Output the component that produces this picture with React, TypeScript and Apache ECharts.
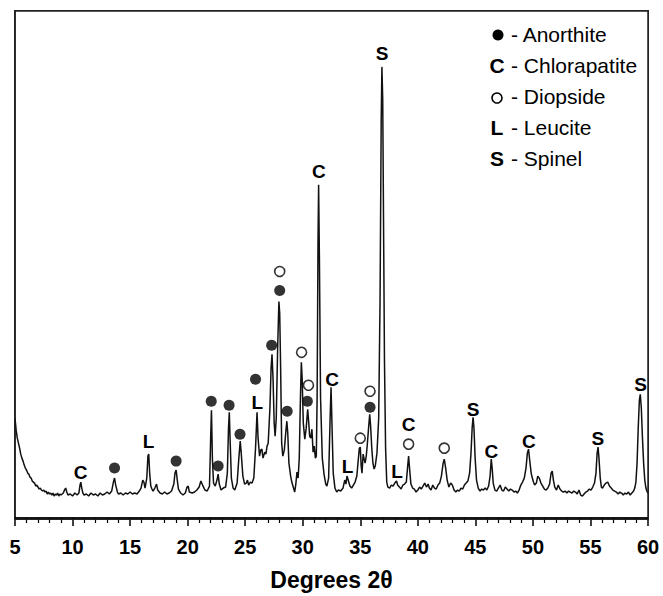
import React, { useEffect, useRef } from "react";
import * as echarts from "echarts";

// XRD pattern: [2θ (degrees), intensity (a.u.)]
const pattern: number[][] = [
  [5.0, 100], [5.1, 88], [5.2, 80], [5.3, 75], [5.4, 70], [5.5, 64], [5.6, 60], [5.7, 57], [5.8, 53], [5.9, 50],
  [6.0, 48], [6.1, 45], [6.2, 44], [6.3, 41], [6.4, 40], [6.5, 37], [6.6, 36], [6.7, 35], [6.8, 32], [6.9, 33],
  [7.0, 31], [7.1, 29], [7.2, 30], [7.3, 28], [7.4, 27], [7.5, 28], [7.6, 26], [7.7, 27], [7.8, 24], [7.9, 26],
  [8.0, 24], [8.1, 25], [8.2, 23], [8.3, 25], [8.4, 22], [8.5, 24], [8.6, 23], [8.7, 25], [8.8, 22], [8.9, 24],
  [9.0, 23], [9.2, 25], [9.3, 28], [9.4, 30], [9.5, 26], [9.6, 23], [9.8, 24], [10.0, 22], [10.2, 25], [10.4, 23],
  [10.55, 25], [10.65, 33], [10.72, 36], [10.8, 30], [10.9, 25], [11.0, 23], [11.2, 24], [11.4, 22], [11.6, 25], [11.8, 23],
  [12.0, 24], [12.2, 22], [12.4, 25], [12.6, 23], [12.8, 24], [13.0, 26], [13.2, 24], [13.4, 27], [13.55, 36], [13.65, 40],
  [13.75, 33], [13.9, 26], [14.0, 24], [14.2, 25], [14.4, 23], [14.6, 25], [14.8, 24], [15.0, 26], [15.2, 24], [15.4, 25],
  [15.6, 24], [15.8, 27], [15.95, 30], [16.1, 38], [16.2, 36], [16.3, 30], [16.45, 40], [16.55, 62], [16.62, 64], [16.7, 45],
  [16.8, 32], [16.9, 29], [17.0, 27], [17.15, 30], [17.3, 34], [17.4, 28], [17.6, 25], [17.8, 24], [18.0, 26], [18.2, 24],
  [18.4, 25], [18.6, 27], [18.8, 34], [18.9, 45], [19.0, 48], [19.1, 38], [19.2, 29], [19.4, 25], [19.6, 23], [19.8, 25],
  [19.95, 31], [20.05, 32], [20.15, 26], [20.4, 25], [20.6, 26], [20.8, 28], [21.0, 31], [21.15, 37], [21.3, 33], [21.5, 28],
  [21.7, 27], [21.9, 32], [22.0, 80], [22.07, 108], [22.15, 60], [22.25, 35], [22.4, 32], [22.55, 38], [22.65, 44], [22.75, 34],
  [22.9, 28], [23.1, 30], [23.3, 31], [23.45, 45], [23.55, 90], [23.62, 106], [23.7, 75], [23.8, 40], [23.95, 30], [24.1, 28],
  [24.3, 35], [24.45, 60], [24.57, 77], [24.65, 66], [24.8, 42], [24.95, 34], [25.1, 35], [25.2, 38], [25.3, 33], [25.45, 36],
  [25.6, 35], [25.75, 40], [25.9, 70], [26.03, 106], [26.12, 80], [26.25, 62], [26.35, 68], [26.45, 69], [26.55, 60], [26.7, 66],
  [26.8, 64], [26.9, 72], [27.0, 75], [27.15, 110], [27.25, 150], [27.33, 164], [27.42, 140], [27.52, 95], [27.6, 82], [27.7, 100],
  [27.82, 170], [27.93, 217], [28.0, 205], [28.08, 150], [28.17, 75], [28.27, 62], [28.4, 68], [28.52, 85], [28.62, 97], [28.7, 85],
  [28.8, 55], [28.95, 42], [29.05, 36], [29.2, 30], [29.3, 26], [29.4, 34], [29.5, 46], [29.6, 40], [29.7, 60], [29.8, 120],
  [29.88, 156], [29.95, 140], [30.05, 95], [30.18, 79], [30.3, 90], [30.43, 109], [30.52, 96], [30.6, 82], [30.7, 80], [30.8, 89],
  [30.9, 66], [31.0, 72], [31.1, 60], [31.18, 62], [31.25, 120], [31.33, 280], [31.38, 334], [31.45, 260], [31.55, 120], [31.7, 60],
  [31.85, 44], [32.0, 34], [32.1, 32], [32.25, 40], [32.38, 100], [32.46, 131], [32.55, 90], [32.65, 45], [32.8, 30], [32.95, 26],
  [33.1, 28], [33.3, 27], [33.5, 30], [33.65, 38], [33.75, 34], [33.85, 42], [33.95, 38], [34.1, 32], [34.25, 30], [34.4, 33],
  [34.55, 36], [34.7, 42], [34.8, 55], [34.92, 70], [35.0, 71], [35.08, 52], [35.15, 45], [35.25, 64], [35.32, 60], [35.42, 55],
  [35.52, 62], [35.62, 75], [35.72, 90], [35.82, 104], [35.9, 92], [36.0, 70], [36.1, 55], [36.2, 49], [36.3, 52], [36.45, 65],
  [36.6, 100], [36.72, 220], [36.82, 400], [36.88, 452], [36.95, 420], [37.02, 300], [37.1, 160], [37.2, 70], [37.3, 36], [37.4, 31],
  [37.55, 30], [37.7, 33], [37.85, 32], [38.0, 35], [38.15, 37], [38.25, 33], [38.4, 31], [38.55, 29], [38.7, 33], [38.85, 34],
  [39.0, 36], [39.12, 52], [39.2, 62], [39.28, 50], [39.4, 34], [39.55, 30], [39.7, 29], [39.85, 26], [40.0, 28], [40.15, 31],
  [40.3, 29], [40.45, 32], [40.6, 35], [40.75, 31], [40.9, 34], [41.0, 30], [41.15, 28], [41.3, 33], [41.45, 30], [41.6, 29],
  [41.75, 33], [41.9, 35], [42.05, 42], [42.2, 55], [42.3, 59], [42.42, 50], [42.55, 38], [42.7, 31], [42.85, 35], [43.0, 33],
  [43.15, 28], [43.3, 26], [43.45, 28], [43.6, 27], [43.75, 30], [43.9, 29], [44.05, 33], [44.2, 35], [44.35, 37], [44.5, 45],
  [44.62, 65], [44.72, 90], [44.8, 101], [44.88, 90], [44.98, 60], [45.1, 38], [45.25, 30], [45.4, 27], [45.55, 29], [45.7, 28],
  [45.85, 30], [46.0, 28], [46.15, 32], [46.28, 42], [46.38, 59], [46.46, 50], [46.55, 35], [46.7, 28], [46.85, 27], [47.0, 30],
  [47.15, 33], [47.3, 28], [47.45, 27], [47.6, 31], [47.75, 29], [47.9, 27], [48.05, 29], [48.2, 28], [48.35, 26], [48.5, 27],
  [48.65, 25], [48.8, 28], [48.95, 33], [49.1, 36], [49.25, 40], [49.4, 50], [49.52, 65], [49.62, 69], [49.72, 58], [49.85, 45],
  [49.95, 40], [50.05, 36], [50.15, 33], [50.3, 35], [50.42, 42], [50.55, 40], [50.7, 35], [50.85, 32], [51.0, 29], [51.15, 28],
  [51.3, 30], [51.45, 34], [51.58, 45], [51.68, 47], [51.78, 38], [51.9, 31], [52.05, 28], [52.2, 33], [52.35, 29], [52.5, 27],
  [52.65, 26], [52.8, 27], [52.95, 25], [53.1, 27], [53.25, 26], [53.4, 25], [53.55, 27], [53.7, 26], [53.85, 24], [54.0, 28],
  [54.15, 23], [54.3, 22], [54.45, 24], [54.6, 26], [54.75, 27], [54.9, 29], [55.05, 28], [55.2, 31], [55.35, 35], [55.48, 45],
  [55.58, 65], [55.66, 71], [55.74, 60], [55.85, 40], [55.95, 31], [56.05, 30], [56.2, 33], [56.35, 35], [56.5, 36], [56.65, 32],
  [56.8, 30], [56.95, 28], [57.1, 27], [57.25, 26], [57.4, 24], [57.55, 26], [57.7, 25], [57.85, 23], [58.0, 25], [58.15, 24],
  [58.3, 26], [58.45, 23], [58.6, 25], [58.75, 27], [58.85, 30], [58.95, 36], [59.05, 55], [59.15, 90], [59.25, 118], [59.33, 124],
  [59.42, 110], [59.52, 80], [59.62, 55], [59.72, 38], [59.82, 30], [59.9, 27], [60.0, 25],
];

// Phase markers: [2θ, label height]
const anorthite: number[][] = [
  [13.65, 50], [19.0, 57], [22.05, 117], [22.65, 52], [23.6, 113], [24.55, 84], [25.9, 139],
  [27.3, 173], [28.0, 228], [28.65, 107], [30.4, 117], [35.85, 111],
];
const diopside: number[][] = [
  [28.0, 247], [29.9, 166], [30.5, 133], [35.0, 80], [35.85, 127], [39.2, 74], [42.3, 70],
];
const letterPos: number[][] = [
  [10.7, 46], [16.6, 77], [26.05, 116], [31.4, 347], [32.55, 139], [33.9, 52], [36.9, 465],
  [38.2, 47], [39.2, 94], [44.8, 109], [46.4, 67], [49.65, 77], [55.65, 80], [59.35, 134],
];
const letterText: string[] = ["C", "L", "L", "C", "C", "L", "S", "L", "C", "S", "C", "C", "S", "S"];

const legendNames: string[] = ["Anorthite", "Chlorapatite", "Diopside", "Leucite", "Spinel"];
const legendKeys: string[] = ["dot", "C", "circle", "L", "S"];

const xTicks = { min: 5, max: 60, interval: 5 };
const yRange = { min: 0, max: 508 };
const xTitle = "Degrees 2θ";

const W = 663;
const H = 596;
const GRID = { left: 15, right: 15, top: 11, bottom: 77 };
const FRAME_W = 1.5;

const FONT = "Liberation Sans, Arial, Helvetica, sans-serif";

export default function App() {
  const ref = useRef<HTMLDivElement>(null);
  useEffect(() => {
    document.body.style.margin = "0";
    if (!ref.current) return;
    const chart = echarts.init(ref.current, undefined, { renderer: "svg" });

    const legendGraphics: any[] = [];
    const rowY0 = 34;
    const rowStep = 31;
    legendNames.forEach((name, i) => {
      const y = rowY0 + i * rowStep;
      const key = legendKeys[i];
      if (key === "dot") {
        legendGraphics.push({ type: "circle", shape: { cx: 498, cy: y + 1, r: 5.5 }, style: { fill: "#000" } });
      } else if (key === "circle") {
        legendGraphics.push({ type: "circle", shape: { cx: 497, cy: y + 2, r: 5 }, style: { fill: "#fff", stroke: "#000", lineWidth: 1.6 } });
      } else {
        legendGraphics.push({
          type: "text", x: 497, y,
          style: { text: key, fontFamily: FONT, fontWeight: "bold", fontSize: 21, fill: "#000", align: "center", verticalAlign: "middle" },
        });
      }
      legendGraphics.push({
        type: "text", x: 511, y,
        style: { text: "- " + name, fontFamily: FONT, fontSize: 21, fill: "#000", align: "left", verticalAlign: "middle" },
      });
    });

    chart.setOption({
      animation: false,
      grid: { ...GRID, show: true, borderColor: "#222", borderWidth: FRAME_W },
      xAxis: {
        type: "value",
        min: xTicks.min,
        max: xTicks.max,
        interval: xTicks.interval,
        name: xTitle,
        nameLocation: "middle",
        nameGap: 50,
        nameTextStyle: { fontFamily: FONT, fontWeight: "bold", fontSize: 23, color: "#000" },
        axisLine: { show: true, onZero: false, lineStyle: { color: "#000", width: 1.5 } },
        axisTick: { show: true, inside: false, length: 8, lineStyle: { color: "#000", width: 1.5 } },
        minorTick: { show: true, splitNumber: 5, length: 5, lineStyle: { color: "#000", width: 1.2 } },
        splitLine: { show: false },
        axisLabel: { fontFamily: FONT, fontWeight: "bold", fontSize: 20, color: "#000", margin: 19 },
      },
      yAxis: {
        type: "value", min: yRange.min, max: yRange.max,
        axisLine: { show: true, lineStyle: { color: "#222", width: FRAME_W } },
        axisTick: { show: false },
        axisLabel: { show: false },
        splitLine: { show: false },
      },
      series: [
        {
          type: "line",
          data: pattern,
          showSymbol: false,
          symbol: "none",
          lineStyle: { color: "#111", width: 1.5 },
        },
        {
          type: "scatter",
          data: anorthite,
          symbol: "circle",
          symbolSize: 11,
          itemStyle: { color: "#000" },
        },
        {
          type: "scatter",
          data: diopside,
          symbol: "circle",
          symbolSize: 10,
          itemStyle: { color: "#fff", borderColor: "#000", borderWidth: 1.6 },
        },
        {
          type: "custom",
          data: letterPos,
          renderItem: (params: any, api: any) => {
            const p = api.coord([api.value(0), api.value(1)]);
            return {
              type: "text",
              x: p[0],
              y: p[1],
              style: {
                text: letterText[params.dataIndex],
                fontFamily: FONT,
                fontWeight: "bold",
                fontSize: 19,
                fill: "#000",
                align: "center",
                verticalAlign: "middle",
              },
            };
          },
        },
      ],
      graphic: legendGraphics,
    });
    return () => chart.dispose();
  }, []);

  const half = FRAME_W / 2;
  return (
    <div style={{ position: "absolute", left: 0, top: 0, width: W, height: H }}>
      <div ref={ref} style={{ width: W, height: H, position: "absolute", left: 0, top: 0 }} />
      <div
        style={{
          position: "absolute",
          left: GRID.left - half,
          top: GRID.top - half,
          width: W - GRID.left - GRID.right + FRAME_W,
          height: H - GRID.top - GRID.bottom + FRAME_W,
          border: `${FRAME_W}px solid #222`,
          boxSizing: "border-box",
          pointerEvents: "none",
        }}
      />
    </div>
  );
}
